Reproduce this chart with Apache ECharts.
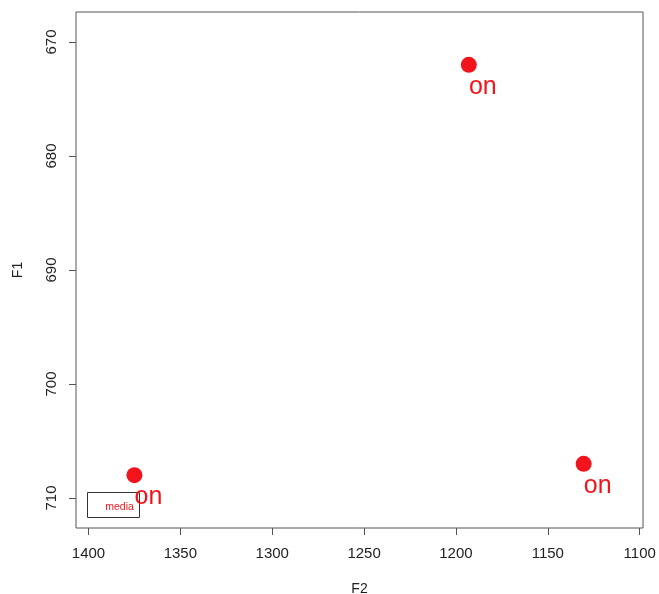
<!DOCTYPE html>
<html><head><meta charset="utf-8">
<script src="https://cdn.jsdelivr.net/npm/echarts@6/dist/echarts.min.js"></script>
<style>html,body{margin:0;padding:0;background:#fff}#c{width:659px;height:594px}</style>
</head><body><div id="c"></div>
<script>
const vowels = ['on','on','on'];
const f2 = [1193, 1375, 1130.5];
const f1 = [672, 708, 707];
const xTicks = [1400,1350,1300,1250,1200,1150,1100];
const yTicks = [670,680,690,700,710];
const legendLabel = 'media';

const chart = echarts.init(document.getElementById('c'));
const data = f2.map((x,i)=>[x, f1[i], vowels[i]]);
chart.setOption({
  animation:false,
  grid:{left:76,right:16,top:12,bottom:66,show:true,borderColor:'#555',borderWidth:1,containLabel:false,outerBoundsMode:'none'},
  xAxis:{type:'value',inverse:true,min:1098.2,max:1406.8,
    name:'F2',nameLocation:'middle',nameGap:54,nameTextStyle:{fontSize:14,color:'#222',fontFamily:'Liberation Sans'},
    axisLine:{show:false},splitLine:{show:false},
    axisTick:{show:true,inside:false,length:7,lineStyle:{color:'#555'},customValues:xTicks},
    axisLabel:{customValues:xTicks,formatter:v=>String(v),hideOverlap:false,showMinLabel:true,showMaxLabel:true,
      fontSize:15,color:'#222',margin:18,fontFamily:'Liberation Sans'}},
  yAxis:{type:'value',inverse:true,min:667.37,max:712.63,
    name:'F1',nameLocation:'middle',nameGap:51,nameRotate:90,nameTextStyle:{fontSize:14,color:'#222',fontFamily:'Liberation Sans'},
    axisLine:{show:false},splitLine:{show:false},
    axisTick:{show:true,inside:false,length:7,lineStyle:{color:'#555'},customValues:yTicks},
    axisLabel:{customValues:yTicks,formatter:v=>String(v),rotate:90,hideOverlap:false,showMinLabel:true,showMaxLabel:true,
      fontSize:15,color:'#222',margin:17,fontFamily:'Liberation Sans'}},
  series:[{type:'scatter',data:data,symbol:'circle',symbolSize:16,
    itemStyle:{color:'#f2141c',opacity:1},
    label:{show:true,formatter:p=>p.data[2],position:'inside',offset:[14,22],
      fontSize:25,color:'#f2141c',fontFamily:'Liberation Sans'}}],
  graphic:[
    {type:'rect',shape:{x:87.5,y:492.5,width:52,height:25},style:{fill:'#fff',stroke:'#333',lineWidth:1}},
    {type:'text',x:119.5,y:507,style:{text:legendLabel,fill:'#f2141c',font:'10.5px "Liberation Sans"',textAlign:'center',textVerticalAlign:'middle'}}
  ]
});
</script></body></html>
